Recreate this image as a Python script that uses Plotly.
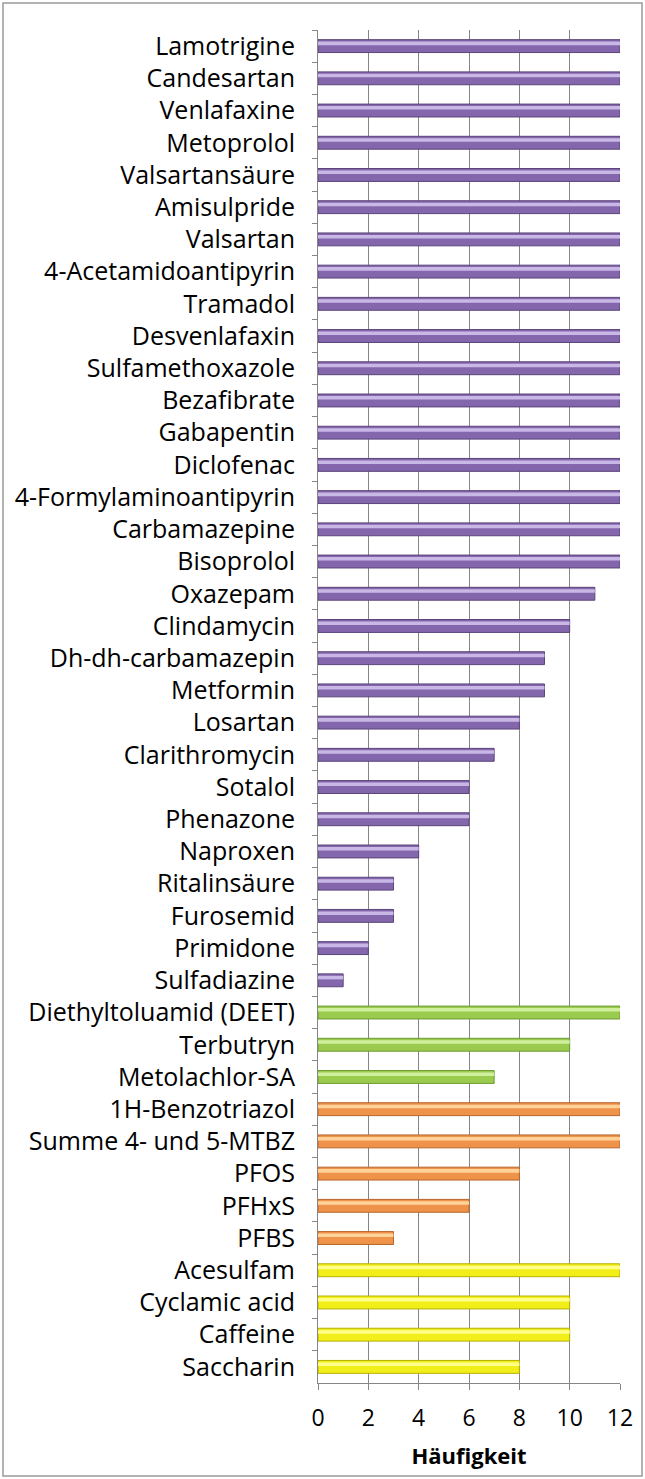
import plotly.graph_objects as go

categories = ["Lamotrigine", "Candesartan", "Venlafaxine", "Metoprolol", "Valsartansäure",
              "Amisulpride", "Valsartan", "4-Acetamidoantipyrin", "Tramadol", "Desvenlafaxin",
              "Sulfamethoxazole", "Bezafibrate", "Gabapentin", "Diclofenac",
              "4-Formylaminoantipyrin", "Carbamazepine", "Bisoprolol", "Oxazepam", "Clindamycin",
              "Dh-dh-carbamazepin", "Metformin", "Losartan", "Clarithromycin", "Sotalol",
              "Phenazone", "Naproxen", "Ritalinsäure", "Furosemid", "Primidone", "Sulfadiazine",
              "Diethyltoluamid (DEET)", "Terbutryn", "Metolachlor-SA",
              "1H-Benzotriazol", "Summe 4- und 5-MTBZ", "PFOS", "PFHxS", "PFBS",
              "Acesulfam", "Cyclamic acid", "Caffeine", "Saccharin"]
values = [12, 12, 12, 12, 12, 12, 12, 12, 12, 12, 12, 12, 12, 12, 12, 12, 12, 11, 10, 9, 9, 8,
          7, 6, 6, 4, 3, 3, 2, 1,
          12, 10, 7,
          12, 12, 8, 6, 3,
          12, 10, 10, 8]
groups = ["pharma"] * 30 + ["pest"] * 3 + ["ind"] * 5 + ["sweet"] * 4
x_ticks = [0, 2, 4, 6, 8, 10, 12]

fill = {"pharma": "#8466AD", "pest": "#9BCB4E", "ind": "#F0934A", "sweet": "#F2EE1A"}
edge = {"pharma": "#5A4478", "pest": "#6E9A35", "ind": "#B8642A", "sweet": "#B5B000"}
light = {"pharma": "#C9B8E6", "pest": "#CFEF9C", "ind": "#FFD29A", "sweet": "#FFFF8A"}

fig = go.Figure()
fig.add_trace(go.Bar(
    y=categories, x=values, orientation="h",
    marker=dict(color=[fill[g] for g in groups],
                line=dict(color=[edge[g] for g in groups], width=1)),
    width=0.4, offset=-0.2, hoverinfo="x+y",
))
fig.add_trace(go.Bar(
    y=categories, x=values, orientation="h",
    marker=dict(color=[light[g] for g in groups], line=dict(width=0)),
    width=0.11, offset=-0.14, hoverinfo="skip",
))

W, H = 645, 1479
L, R, T, B = 318, 25, 30, 96
pw, ph = W - L - R, H - T - B

fig.update_layout(
    barmode="overlay",
    width=W, height=H,
    margin=dict(l=L, r=R, t=T, b=B),
    paper_bgcolor="white", plot_bgcolor="white",
    showlegend=False,
    font=dict(family="Open Sans, sans-serif", color="black"),
    xaxis=dict(
        range=[0, 12], tickvals=x_ticks, ticks="outside", ticklen=6, tickcolor="#868686",
        showgrid=True, gridcolor="#868686", gridwidth=1,
        showline=True, linecolor="#868686", zeroline=False,
        tickfont=dict(size=23), ticklabelstandoff=8,
        title=dict(text="<b>Häufigkeit</b>", font=dict(size=22), standoff=17),
    ),
    yaxis=dict(
        type="category", autorange="reversed",
        tickson="boundaries", ticks="outside", ticklen=5, tickcolor="#868686",
        showline=True, linecolor="#868686", showgrid=False,
        tickfont=dict(size=25), ticklabelstandoff=17,
    ),
    shapes=[dict(type="rect", xref="paper", yref="paper",
                 x0=(3 - L) / pw, x1=(642 - L) / pw,
                 y0=(H - B - 1476) / ph, y1=(H - B - 3) / ph,
                 line=dict(color="#9A9A9A", width=1.5), layer="below")],
)

fig.write_html("out.html", config={"displayModeBar": False},
               post_script="document.body.style.margin='0';")
